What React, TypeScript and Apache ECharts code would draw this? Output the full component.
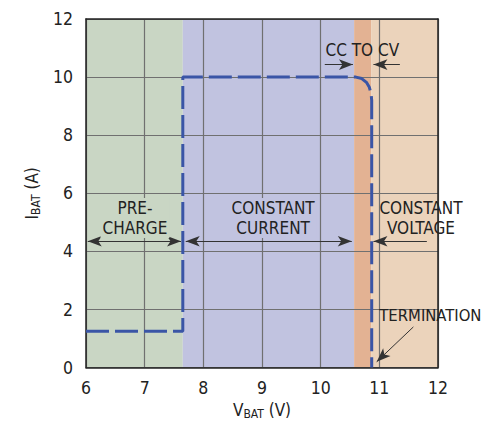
import React, { useEffect, useRef } from "react";
import * as echarts from "echarts";

const xTicks = [6, 7, 8, 9, 10, 11, 12];
const yTicks = [0, 2, 4, 6, 8, 10, 12];

// charge profile (V, A)
const profileV = [6, 7.65, 7.65, 10.6, 10.7, 10.78, 10.83, 10.86, 10.87, 10.87];
const profileI = [1.25, 1.25, 10, 10, 9.95, 9.82, 9.65, 9.42, 9.2, 0];

// regions [from, to, colour]
const regionFrom = [6, 7.65, 10.57, 10.86];
const regionTo = [7.65, 10.57, 10.86, 12];
const regionColor = ["#c9d6c4", "#c1c3e0", "#e3b293", "#ebd3bb"];

const labelText = ["PRE-\nCHARGE", "CONSTANT\nCURRENT", "CONSTANT\nVOLTAGE", "CC TO CV", "TERMINATION"];
const labelX = [6.835, 9.19, 11.71, 10.71, 11.87];
const labelY = [5.15, 5.15, 5.15, 10.94, 1.81];
const labelSize = [17, 17, 17, 17, 16.5];
const labelBg = ["#c9d6c4", "#c1c3e0", "transparent", "transparent", "transparent"];

// arrows: start, end, heads
const arrowX1 = [6.03, 7.7, 11.81, 10.07, 11.35, 11.58];
const arrowY1 = [4.35, 4.35, 4.35, 10.43, 10.43, 1.4];
const arrowX2 = [7.62, 10.53, 10.9, 10.55, 10.9, 10.955];
const arrowY2 = [4.35, 4.35, 4.35, 10.43, 10.43, 0.2];
const arrowBoth = [true, true, false, false, false, false];

const FONT = '"DejaVu Sans Condensed", sans-serif';

export default function App() {
  const ref = useRef<HTMLDivElement>(null);
  useEffect(() => {
    document.body.style.margin = "0";
    document.documentElement.style.overflow = "hidden";
    document.body.style.overflow = "hidden";
    if (!ref.current) return;
    const chart = echarts.init(ref.current, undefined, { renderer: "svg" });
    const axisText = { fontFamily: FONT, fontSize: 17.5, color: "#222" };
    const nameRich = {
      i: { fontFamily: FONT, fontSize: 17, color: "#222" },
      s: { fontFamily: FONT, fontSize: 12, color: "#222", padding: [8, 0, 0, 0] },
    };
    chart.setOption({
      animation: false,
      grid: { left: 86, right: 48, top: 19, bottom: 54 },
      xAxis: [
        {
          type: "value",
          min: 6,
          max: 12,
          interval: 1,
          z: 3,
          name: "{i|V}{s|BAT}{i| (V)}",
          nameLocation: "middle",
          nameGap: 32,
          nameTextStyle: { rich: nameRich },
          axisLine: { show: true, lineStyle: { color: "#222", width: 1.5 } },
          axisTick: { show: false },
          axisLabel: { ...axisText, margin: 11, formatter: (v: number) => (xTicks.includes(v) ? String(v) : "") },
          splitLine: { show: true, lineStyle: { color: "#707070", width: 1.2 } },
        },
        {
          type: "value",
          position: "top",
          min: 6,
          max: 12,
          z: 3,
          axisLine: { show: true, onZero: false, lineStyle: { color: "#222", width: 1.5 } },
          axisTick: { show: false },
          axisLabel: { show: false },
          splitLine: { show: false },
        },
      ],
      yAxis: [
        {
          type: "value",
          min: 0,
          max: 12,
          interval: 2,
          z: 3,
          name: "{i|I}{s|BAT}{i| (A)}",
          nameLocation: "middle",
          nameGap: 44,
          nameTextStyle: { rich: nameRich },
          axisLine: { show: true, lineStyle: { color: "#222", width: 1.5 } },
          axisTick: { show: false },
          axisLabel: { ...axisText, margin: 13, formatter: (v: number) => (yTicks.includes(v) ? String(v) : "") },
          splitLine: { show: true, lineStyle: { color: "#707070", width: 1.2 } },
        },
        {
          type: "value",
          position: "right",
          min: 0,
          max: 12,
          z: 3,
          axisLine: { show: true, onZero: false, lineStyle: { color: "#222", width: 1.5 } },
          axisTick: { show: false },
          axisLabel: { show: false },
          splitLine: { show: false },
        },
      ],
      series: [
        {
          type: "line",
          z: 1,
          data: [],
          silent: true,
          markArea: {
            silent: true,
            data: regionFrom.map((f, i) => [
              { xAxis: f, yAxis: 0, itemStyle: { color: regionColor[i], opacity: 1 } },
              { xAxis: regionTo[i], yAxis: 12 },
            ]),
          },
        },
        {
          type: "line",
          z: 5,
          symbol: "none",
          data: profileV.map((v, i) => [v, profileI[i]]),
          lineStyle: { color: "#3a55a6", width: 3, type: [23, 6] },
        },
        {
          type: "line",
          z: 6,
          data: [],
          silent: true,
          markLine: {
            silent: true,
            precision: 3,
            label: { show: false },
            lineStyle: { color: "#333", width: 1, type: "solid" },
            symbolSize: [8, 14],
            data: arrowX1.map((x, i) => [
              { coord: [x, arrowY1[i]], symbol: arrowBoth[i] ? "arrow" : "none" },
              { coord: [arrowX2[i], arrowY2[i]], symbol: "arrow" },
            ]),
          },
          markPoint: {
            silent: true,
            symbol: "rect",
            symbolSize: 0,
            data: labelText.map((t, i) => ({
              coord: [labelX[i], labelY[i]],
              label: {
                show: true,
                position: "inside",
                formatter: t,
                fontFamily: FONT,
                fontSize: labelSize[i],
                lineHeight: 20,
                color: "#222",
                align: "center",
                backgroundColor: labelBg[i],
                padding: [0, 2],
              },
            })),
          },
        },
      ],
    });
    return () => chart.dispose();
  }, []);
  return <div ref={ref} style={{ width: 486, height: 425 }} />;
}
